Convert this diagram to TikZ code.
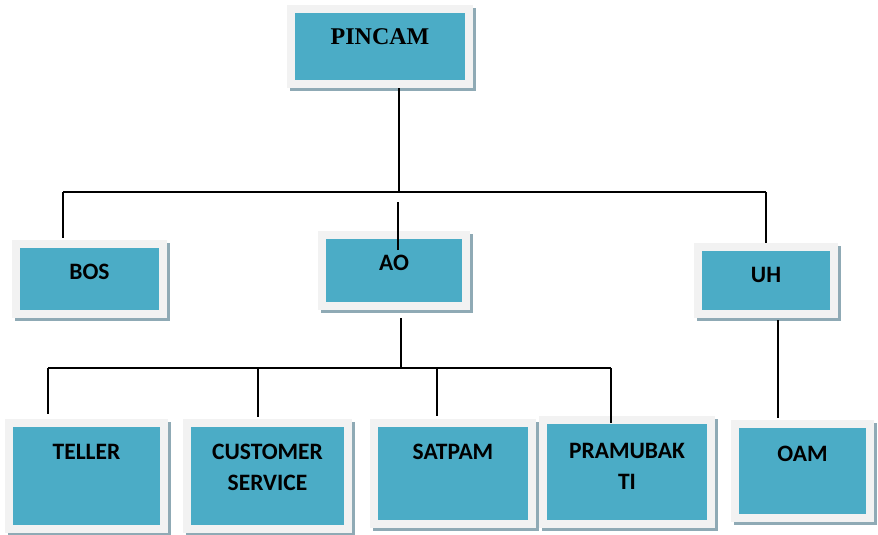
\documentclass[tikz,border=0pt]{standalone}
\usepackage{fontspec}
\setmainfont{Carlito}
\newfontfamily\timesfont{Liberation Serif}
\usetikzlibrary{shadows}
\definecolor{unitfill}{HTML}{4BACC6}
\definecolor{unitframe}{HTML}{F2F2F2}
\definecolor{unitshadow}{HTML}{8FAAB5}
\tikzset{
unit/.style={rectangle, draw=unitframe, fill=unitfill, line width=8pt,
  inner sep=0pt, outer sep=0pt,
  drop shadow={shadow xshift=3pt, shadow yshift=-3pt, fill=unitshadow,
    draw=unitshadow, line width=8pt, opacity=1}},
title/.style={anchor=base, inner sep=0pt, align=center,
  font=\bfseries\fontsize{23.5}{31}\selectfont},
link/.style={line width=2.1pt},
}

\begin{document}
\begin{tikzpicture}
    [x=1pt, y=-1pt]
    \useasboundingbox (0,0) rectangle (878,535);

    % units
    \node [unit, minimum width=178pt, minimum height=75pt] (pincam) at (380,46.5) {};
    \node [unit, minimum width=147pt, minimum height=70pt] (bos) at (89.5,279) {};
    \node [unit, minimum width=144pt, minimum height=71pt] (ao) at (394,270.5) {};
    \node [unit, minimum width=136pt, minimum height=67pt] (uh) at (766,280.5) {};
    \node [unit, minimum width=155pt, minimum height=106pt] (teller) at (86.5,476) {};
    \node [unit, minimum width=161pt, minimum height=106pt] (cs) at (267.5,476) {};
    \node [unit, minimum width=158pt, minimum height=101pt] (satpam) at (453,473.5) {};
    \node [unit, minimum width=168pt, minimum height=104pt] (pramubakti) at (627,472) {};
    \node [unit, minimum width=135pt, minimum height=94pt] (oam) at (802.5,471) {};

    % names (two-line nodes sit on their last line)
    \node [title, font=\timesfont\bfseries\fontsize{24}{31}\selectfont] (pincam-t)
        at ([yshift=-36pt]pincam.north) {PINCAM};
    \node [title] (bos-t) at ([yshift=-35pt]bos.north) {BOS};
    \node [title] (ao-t) at ([yshift=-35pt]ao.north) {AO};
    \node [title] (uh-t) at ([yshift=-35pt]uh.north) {UH};
    \node [title] (teller-t) at ([yshift=-36pt]teller.north) {TELLER};
    \node [title] (cs-t) at ([yshift=-67pt]cs.north) {CUSTOMER\\SERVICE};
    \node [title] (satpam-t) at ([yshift=-36pt]satpam.north) {SATPAM};
    \node [title] (pramubakti-t) at ([yshift=-69pt]pramubakti.north) {PRAMUBAK\\TI};
    \node [title] (oam-t) at ([yshift=-37pt]oam.north) {OAM};

    % lines
    \coordinate (bus1l) at (63,192);
    \coordinate (bus1m) at (399,192);
    \coordinate (bus1r) at (766,192);
    \coordinate (ao-drop) at (398,202);
    \coordinate (bus2l) at (48,368);
    \coordinate (bus2m) at (401,368);
    \coordinate (cs-drop) at (258,368);
    \coordinate (satpam-drop) at (437,368);
    \coordinate (bus2r) at (611,368);
    \coordinate (uh-drop) at (778,370);

    \draw[link, shorten <=4pt] (bus1m |- pincam.south) -- (bus1m);
    \draw[link] (bus1l) -- (bus1r);
    \draw[link, shorten >=6pt] (bus1l) -- (bus1l |- bos.north);
    \draw[link, shorten >=-15pt] (ao-drop) -- (ao-drop |- ao.north);
    \draw[link, shorten >=4pt] (bus1r) -- (bus1r |- uh.north);

    \draw[link, shorten <=12pt] (bus2m |- ao.south) -- (bus2m);
    \draw[link] (bus2l) -- (bus2r);
    \draw[link, shorten >=9pt] (bus2l) -- (bus2l |- teller.north);
    \draw[link, shorten >=6pt] (cs-drop) -- (cs-drop |- cs.north);
    \draw[link, shorten >=7pt] (satpam-drop) -- (satpam-drop |- satpam.north);
    \draw[link, shorten >=-3pt] (bus2r) -- (bus2r |- pramubakti.north);

    \draw[link, shorten <=6pt, shorten >=6pt] (uh-drop |- uh.south) -- (uh-drop |- oam.north);

\end{tikzpicture}
\end{document}
